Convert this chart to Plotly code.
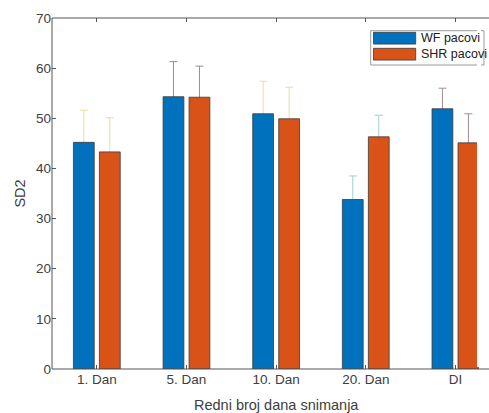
import plotly.graph_objects as go

categories = ["1. Dan", "5. Dan", "10. Dan", "20. Dan", "DI"]
wf_values = [45.2, 54.3, 50.9, 33.8, 51.9]
shr_values = [43.3, 54.2, 49.9, 46.3, 45.1]
wf_err = [6.4, 7.0, 6.5, 4.7, 4.1]
shr_err = [6.8, 6.2, 6.3, 4.3, 5.8]
err_colors = ["#E9DE9F", "#9C8A98", "#E6DDA6", "#9ED0D4", "#A08A98"]
series_names = ["WF pacovi", "SHR pacovi"]
series_colors = ["#0072BD", "#D95319"]
y_ticks = [0, 10, 20, 30, 40, 50, 60, 70]
x_title = "Redni broj dana snimanja"
y_title = "SD2"

W, H = 489, 413
ML, MR, MT, MB = 52, 10, 18, 44
BAR_W = 0.232
OFFS = [-0.261, 0.029]
XR = [0.5, 0.5 + (W - ML - MR) / 89.65]
YR = [0, 70]
FONT = "Liberation Sans, Arial, sans-serif"
TXT = "#404040"
AX = "#555555"

xs = list(range(1, len(categories) + 1))
fig = go.Figure()

# error bars (main subplot, drawn beneath the bars of the overlay subplot)
for i, c in enumerate(categories):
    px = [xs[i] + OFFS[0] + BAR_W / 2, xs[i] + OFFS[1] + BAR_W / 2]
    fig.add_trace(go.Scatter(
        x=px, y=[wf_values[i], shr_values[i]], mode="markers",
        marker=dict(size=1, opacity=0), showlegend=False, hoverinfo="skip",
        error_y=dict(type="data", array=[wf_err[i], shr_err[i]], symmetric=True,
                     color=err_colors[i], thickness=1, width=4),
        xaxis="x", yaxis="y"))

for name, vals, col, off in zip(series_names, [wf_values, shr_values], series_colors, OFFS):
    fig.add_trace(go.Bar(
        x=xs, y=vals, name=name, width=BAR_W, offset=off,
        marker=dict(color=col, line=dict(color="#3a3a3a", width=0.8)),
        showlegend=False, xaxis="x2", yaxis="y2"))

axis_common = dict(showgrid=False, zeroline=False, showline=False, automargin=False)
fig.update_layout(
    width=W, height=H, margin=dict(l=ML, r=MR, t=MT, b=MB, autoexpand=False),
    paper_bgcolor="white", plot_bgcolor="white",
    font=dict(family=FONT, size=13.5, color=TXT),
    barmode="overlay",
    xaxis=dict(range=XR, tickmode="array", tickvals=xs, ticktext=categories,
               ticks="inside", ticklen=4, tickcolor=AX, mirror="ticks",
               tickfont=dict(size=13.5, color=TXT), **axis_common),
    yaxis=dict(range=YR, tickmode="array", tickvals=y_ticks,
               ticks="inside", ticklen=4, tickcolor=AX,
               title=dict(text=y_title, standoff=6, font=dict(size=14.5, color=TXT)),
               tickfont=dict(size=13.5, color=TXT), **axis_common),
    xaxis2=dict(range=XR, overlaying="x", visible=False, **axis_common),
    yaxis2=dict(range=YR, overlaying="y", visible=False, **axis_common),
)

pw, ph = W - ML - MR, H - MT - MB
def xp(px): return (px - ML) / pw
def yp(py): return (H - MB - py) / ph

# axes frame: left, bottom, top (the reference is cropped at its right edge)
xr_edge = xp(W)
for x0, y0, x1, y1 in [(0, 0, 0, 1), (0, 0, xr_edge, 0), (0, 1, xr_edge, 1)]:
    fig.add_shape(type="line", xref="paper", yref="paper", x0=x0, y0=y0, x1=x1, y1=y1,
                  line=dict(color=AX, width=1), layer="above")

# mask the stray edge line at the plot area's right border
fig.add_annotation(xref="paper", yref="paper", x=1, y=0.5, xanchor="center",
                   yanchor="middle", text="&nbsp;", showarrow=False,
                   width=4, height=ph - 4, bgcolor="white", borderpad=0,
                   borderwidth=0, font=dict(size=4))

# x-axis title centred on the full (uncropped) MATLAB axes box
fig.add_annotation(xref="paper", yref="paper", x=xp(276), y=yp(405),
                   text=x_title, showarrow=False, xanchor="center", yanchor="middle",
                   font=dict(size=14.5, color=TXT))

# legend drawn as shapes + text (MATLAB style)
fig.add_shape(type="rect", xref="paper", yref="paper",
              x0=xp(370.7), x1=xp(484), y0=yp(65), y1=yp(30.7),
              line=dict(color="#9a9a9a", width=1), fillcolor="white", layer="above")
for k, (name, col) in enumerate(zip(series_names, series_colors)):
    top = 32.3 + k * 16
    fig.add_shape(type="rect", xref="paper", yref="paper",
                  x0=xp(373.5), x1=xp(415.7), y0=yp(top + 11.8), y1=yp(top),
                  line=dict(color="#3a3a3a", width=0.8), fillcolor=col, layer="above")
    fig.add_annotation(xref="paper", yref="paper", x=xp(418.5), y=yp(top + 6),
                       text=name, showarrow=False, xanchor="left", yanchor="middle",
                       font=dict(size=12.5, color="#202020"))

fig.write_html("out.html")
